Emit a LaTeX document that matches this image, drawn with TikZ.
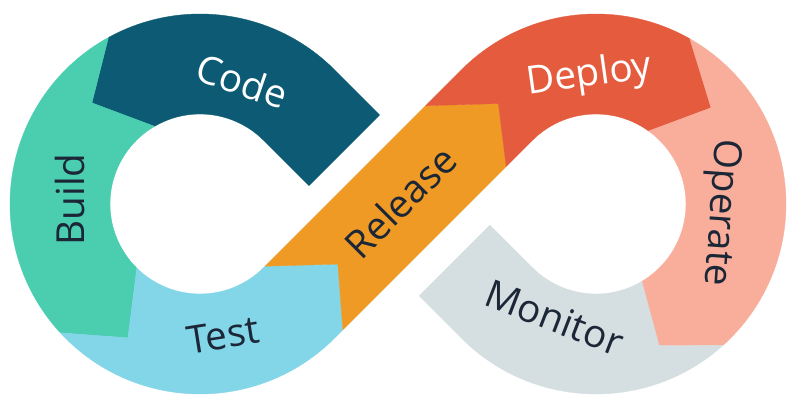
\documentclass[tikz,border=0pt]{standalone}
\usepackage{fontspec}
\setmainfont{Open Sans}
\usepackage{tikz}
\usetikzlibrary{calc}
\definecolor{ccode}{RGB}{12,90,116}
\definecolor{cbuild}{RGB}{75,205,176}
\definecolor{ctest}{RGB}{131,213,232}
\definecolor{crelease}{RGB}{238,154,37}
\definecolor{cdeploy}{RGB}{229,91,62}
\definecolor{coperate}{RGB}{248,174,154}
\definecolor{cmonitor}{RGB}{213,222,224}
\definecolor{cink}{RGB}{27,38,55}

\begin{document}
\begin{tikzpicture}[
  x=0.03cm,y=0.03cm,
  seg/.style={fill=#1,draw=#1,line width=0.3pt,line join=round},
  lbl/.style={font=\fontsize{33}{40}\selectfont,text=cink,inner sep=0pt},
]
\useasboundingbox[fill=white] (-398,-197) rectangle (408,204);
\coordinate (cl) at (-198,0);
\coordinate (cr) at (198,0);
% left loop
\path[seg=ccode] ($(135:76)+(45:50)$) -- ($(cl)+(45:190)$) arc[start angle=45,end angle=118.8,radius=190]
  -- ($(cl)+(136.9:148)$) -- ($(cl)+(120.3:90)$) arc[start angle=120.3,end angle=45,radius=90]
  -- ($(135:76)+(225:50)$) -- cycle;
\path[seg=cbuild] ($(cl)+(118.8:190)$) arc[start angle=118.8,end angle=222.7,radius=190]
  -- ($(cl)+(241.7:152)$) -- ($(cl)+(225.4:90)$) arc[start angle=225.4,end angle=120.3,radius=90]
  -- ($(cl)+(136.9:148)$) -- cycle;
\path[seg=ctest] ($(cl)+(222.7:190)$) arc[start angle=222.7,end angle=315,radius=190]
  -- ($(225:128)+(315:50)$) -- (225:85) -- ($(225:138)+(135:50)$)
  -- ($(cl)+(315:90)$) arc[start angle=315,end angle=225.4,radius=90]
  -- ($(cl)+(241.7:152)$) -- cycle;
\path[seg=crelease] ($(225:128)+(315:50)$) -- ($(45:103)+(315:50)$) -- (45:142)
  -- ($(45:89)+(135:50)$) -- ($(225:138)+(135:50)$) -- (225:85) -- cycle;
% right loop
\path[seg=cdeploy] ($(45:89)+(135:50)$) -- ($(cr)+(135:190)$) arc[start angle=135,end angle=60.4,radius=190]
  -- ($(cr)+(39.9:150)$) -- ($(cr)+(54.2:90)$) arc[start angle=54.2,end angle=135,radius=90]
  -- ($(45:103)+(315:50)$) -- (45:142) -- cycle;
\path[seg=coperate] ($(cr)+(60.4:190)$) arc[start angle=60.4,end angle=-48.1,radius=190]
  -- ($(cr)+(-66:155)$) -- ($(cr)+(-59.4:90)$) arc[start angle=-59.4,end angle=54.2,radius=90]
  -- ($(cr)+(39.9:150)$) -- cycle;
\path[seg=cmonitor] ($(cr)+(-48.1:190)$) arc[start angle=-48.1,end angle=-135,radius=190]
  -- ($(315:80)+(225:50)$) -- ($(315:80)+(45:50)$)
  -- ($(cr)+(-135:90)$) arc[start angle=-135,end angle=-59.4,radius=90]
  -- ($(cr)+(-66:155)$) -- cycle;

\node[lbl,text=white,rotate=-19] (code) at ($(cl)+(71:130)$) {Code};
\node[lbl,rotate=90] (build) at ($(cl)+(178:130)$) {Build};
\node[lbl,rotate=9] (test) at ($(cl)+(-80:133)$) {Test};
\node[lbl,rotate=45] (release) at (45:3) {Release};
\node[lbl,text=white,rotate=8] (deploy) at ($(cr)+(93:128)$) {Deploy};
\node[lbl,rotate=-94] (operate) at ($(cr)+(-4:124)$) {Operate};
\node[lbl,rotate=-21] (monitor) at ($(cr)+(250:121)$) {Monitor};
\end{tikzpicture}
\end{document}
